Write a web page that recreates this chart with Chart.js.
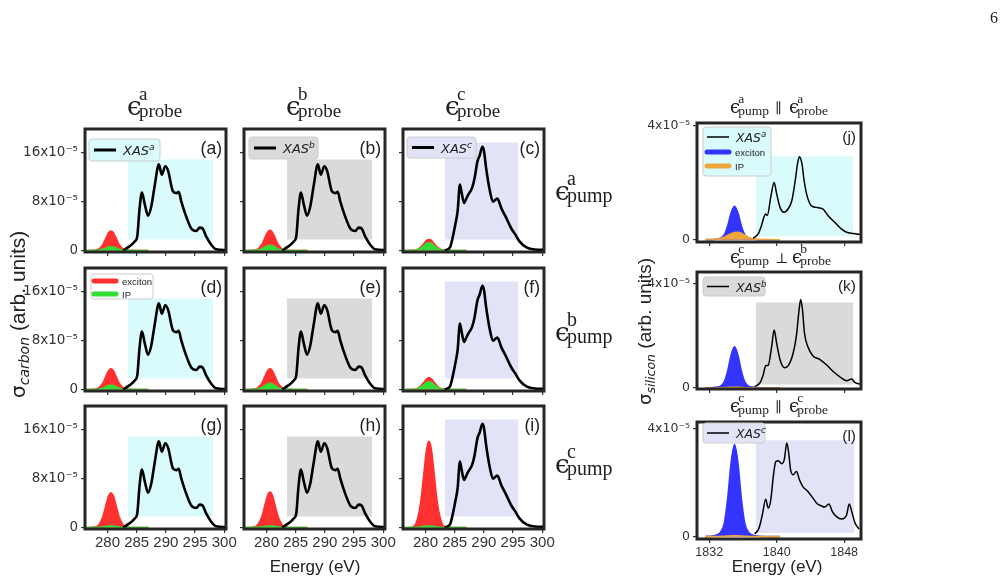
<!DOCTYPE html>
<html>
<head>
<meta charset="utf-8">
<script src="https://cdn.jsdelivr.net/npm/chart.js@4.4.0/dist/chart.umd.min.js"></script>
<style>
  body { margin: 0; background: #fff; }
  #fig { position: relative; width: 1004px; height: 584px; overflow: hidden; font-family: 'Liberation Sans', sans-serif; }
  #fig canvas { position: absolute; }
  #ov { position: absolute; left: 0; top: 0; z-index: 10; pointer-events: none; }
  .ser { font-family: 'Liberation Serif', 'DejaVu Serif', serif; fill: #222; }
  .eps { font-family: 'DejaVu Serif', serif; fill: #222; }
  .sans { font-family: 'Liberation Sans', sans-serif; fill: #222; }
  .dj { font-family: 'DejaVu Sans', sans-serif; fill: #222; }
</style>
</head>
<body>
<div id="fig"><svg id="ov" width="1004" height="584"></svg></div>
<script>
// ---- carbon K-edge data (x1e-5) ----
const cXasABX = [282.7, 283.5, 284.2, 284.7, 285.1, 285.5, 285.9, 286.4, 286.95, 287.5, 288.1, 288.8, 289.3, 289.9, 290.4, 291.2, 291.8, 292.2, 292.65, 293.5, 294.35, 295.2, 295.8, 296.3, 296.9, 297.8, 298.6, 300.3];
const cXasABY = [0.0, 0.5, 1.0, 1.5, 2.3, 6.9, 9.5, 7.5, 5.7, 7.2, 10.7, 14.1, 12.4, 13.8, 13.0, 9.7, 9.4, 9.6, 8.0, 5.5, 3.6, 3.2, 3.75, 3.6, 2.3, 0.9, 0.2, 0.05];
const cXasCX = [283.3, 284.2, 284.7, 285.1, 285.5, 285.9, 286.2, 286.6, 286.9, 287.3, 288.0, 288.4, 288.9, 289.3, 289.75, 290.0, 290.4, 291.0, 291.55, 292.3, 293.0, 293.85, 294.7, 295.4, 296.1, 297.3, 298.7, 300.3];
const cXasCY = [0.0, 0.5, 2.3, 4.2, 6.4, 10.8, 9.4, 7.8, 8.3, 9.1, 10.3, 11.8, 14.6, 15.6, 17.0, 16.4, 13.4, 9.9, 8.0, 8.5, 6.9, 5.3, 3.6, 2.6, 1.5, 0.5, 0.15, 0.1];

// exciton / IP curves share one energy grid
const cExX = [276.4, 277.5, 278.5, 279.2, 279.7, 280.2, 280.6, 281.0, 281.5, 282.0, 282.7, 283.5, 285.0, 287.0];
const cExA = [0, 0.01, 0.22, 0.96, 1.95, 2.91, 3.2, 2.91, 1.95, 0.96, 0.22, 0.02, 0, 0];
const cExB = [0, 0.01, 0.23, 0.99, 2.01, 3.0, 3.3, 3.0, 2.01, 0.99, 0.23, 0.02, 0, 0];
const cExC = [0, 0.01, 0.13, 0.54, 1.1, 1.64, 1.8, 1.64, 1.1, 0.54, 0.13, 0.01, 0, 0];
const cExD = [0, 0.01, 0.24, 1.02, 2.07, 3.09, 3.4, 3.09, 2.07, 1.02, 0.24, 0.02, 0, 0];
const cExE = [0, 0.01, 0.24, 1.02, 2.07, 3.09, 3.4, 3.09, 2.07, 1.02, 0.24, 0.02, 0, 0];
const cExF = [0, 0.01, 0.13, 0.57, 1.16, 1.73, 1.9, 1.73, 1.16, 0.57, 0.13, 0.01, 0, 0];
const cExG = [0, 0.02, 0.4, 1.71, 3.48, 5.19, 5.7, 5.19, 3.48, 1.71, 0.4, 0.03, 0, 0];
const cExH = [0, 0.02, 0.41, 1.74, 3.54, 5.28, 5.8, 5.28, 3.54, 1.74, 0.41, 0.03, 0, 0];
const cExI = [0, 0.04, 0.99, 4.23, 8.6, 12.83, 14.1, 12.83, 8.6, 4.23, 0.99, 0.07, 0, 0];
const cIpA = [0, 0, 0.04, 0.18, 0.37, 0.55, 0.6, 0.55, 0.37, 0.18, 0.04, 0, 0, 0];
const cIpB = [0, 0, 0.06, 0.26, 0.52, 0.77, 0.85, 0.77, 0.52, 0.26, 0.06, 0, 0, 0];
const cIpC = [0, 0, 0.09, 0.38, 0.76, 1.14, 1.25, 1.14, 0.76, 0.38, 0.09, 0.01, 0, 0];
const cIpD = [0, 0, 0.05, 0.21, 0.43, 0.64, 0.7, 0.64, 0.43, 0.21, 0.05, 0, 0, 0];
const cIpE = [0, 0, 0.07, 0.3, 0.61, 0.91, 1.0, 0.91, 0.61, 0.3, 0.07, 0.01, 0, 0];
const cIpF = [0, 0, 0.09, 0.38, 0.76, 1.14, 1.25, 1.14, 0.76, 0.38, 0.09, 0.01, 0, 0];
const cIpG = [0, 0, 0.02, 0.08, 0.15, 0.23, 0.25, 0.23, 0.15, 0.08, 0.02, 0, 0, 0];

// shaded windows: [E start, E end, y bottom, y top]
const cBoxAB = [283.5, 298.1, 1.8, 14.9];
const cBoxC = [283.3, 295.9, 1.8, 17.7];

const cXTicks = [280, 285, 290, 295, 300];
const cYTicks = [0, 8, 16];
const cYLabels = ['0', '8x10⁻⁵', '16x10⁻⁵'];

// ---- silicon K-edge data (x1e-5) ----
const sXasAX = [1837.2, 1837.8, 1838.2, 1838.5, 1838.7, 1838.9, 1839.3, 1839.7, 1840.0, 1840.4, 1840.85, 1841.4, 1841.8, 1842.2, 1842.5, 1842.7, 1843.0, 1843.25, 1843.6, 1844.1, 1844.7, 1845.5, 1846.1, 1846.9, 1847.7, 1848.3, 1849.1, 1849.9];
const sXasAY = [0.05, 0.2, 0.5, 0.8, 0.9, 0.85, 1.5, 2.0, 1.6, 1.13, 0.96, 1.1, 1.37, 2.07, 2.7, 2.9, 2.65, 2.07, 1.54, 1.19, 1.13, 1.07, 0.84, 0.6, 0.37, 0.26, 0.22, 0.18];
const sXasBX = [1837.4, 1838.0, 1838.4, 1838.7, 1839.0, 1839.4, 1839.7, 1840.0, 1840.4, 1840.9, 1841.4, 1841.95, 1842.35, 1842.65, 1842.85, 1843.05, 1843.3, 1843.7, 1844.3, 1845.1, 1845.9, 1846.7, 1847.7, 1848.3, 1848.9, 1849.3, 1849.9];
const sXasBY = [0.06, 0.19, 0.5, 0.85, 0.87, 1.58, 2.22, 1.71, 1.08, 0.78, 0.87, 1.33, 2.03, 2.98, 3.39, 3.03, 2.1, 1.58, 1.23, 1.1, 0.89, 0.63, 0.38, 0.28, 0.34, 0.2, 0.15];
const sXasCX = [1837.4, 1837.9, 1838.3, 1838.7, 1839.0, 1839.3, 1839.6, 1839.9, 1840.2, 1840.6, 1840.9, 1841.2, 1841.45, 1841.65, 1841.95, 1842.35, 1842.7, 1843.1, 1843.7, 1844.3, 1844.8, 1845.3, 1845.7, 1846.2, 1846.6, 1847.1, 1847.7, 1848.3, 1848.6, 1848.9, 1849.3, 1849.8];
const sXasCY = [0.1, 0.31, 0.81, 1.39, 1.06, 1.36, 2.24, 2.79, 2.82, 2.71, 2.86, 3.48, 3.04, 2.48, 2.3, 2.42, 2.11, 1.86, 1.68, 1.43, 1.22, 1.14, 1.1, 1.21, 0.93, 0.74, 0.65, 0.81, 1.21, 0.93, 0.5, 0.28];

const sExX = [1831.5, 1832.5, 1833.3, 1833.8, 1834.2, 1834.6, 1835.0, 1835.4, 1835.8, 1836.2, 1836.7, 1837.5, 1838.5, 1840.4];
const sExJ = [0, 0.01, 0.05, 0.18, 0.49, 0.94, 1.17, 0.94, 0.49, 0.18, 0.05, 0.01, 0, 0];
const sExK = [0, 0.02, 0.06, 0.24, 0.66, 1.26, 1.58, 1.26, 0.66, 0.24, 0.06, 0.02, 0, 0];
const sExL = [0, 0.03, 0.14, 0.51, 1.44, 2.74, 3.42, 2.74, 1.44, 0.51, 0.14, 0.03, 0, 0];
const sIpJ = [0, 0.01, 0.04, 0.09, 0.15, 0.21, 0.25, 0.26, 0.23, 0.16, 0.08, 0.02, 0.005, 0];
const sIpK = [0, 0, 0.005, 0.01, 0.02, 0.03, 0.03, 0.03, 0.02, 0.01, 0.005, 0, 0, 0];

const sBoxJ = [1837.5, 1849.1, 0.12, 2.92];
const sBoxK = [1837.5, 1849.1, 0.13, 3.28];
const sBoxL = [1837.5, 1849.2, 0.13, 3.58];

const sXTicks = [1832, 1840, 1848];
const sYTicks = [0, 4];
const sYLabels = ['0', '4x10⁻⁵'];

// colours
const CYAN = '#dafbfb', GRAY = '#dadada', LAV = '#e3e3f7';
const RED = '#ff3030', GREEN = '#33dd33', BLUE = '#3434ff', ORANGE = '#eea53a';

const pts = (xs, ys) => xs.map((x, i) => ({ x: x, y: ys[i] }));

const fig = document.getElementById('fig');

const framePlugin = {
  id: 'frame',
  afterDraw(chart) {
    const a = chart.chartArea, ctx = chart.ctx;
    ctx.save();
    ctx.strokeStyle = '#262626';
    ctx.lineWidth = 3;
    ctx.strokeRect(a.left, a.top, a.right - a.left, a.bottom - a.top);
    ctx.restore();
  }
};

function makePanel(p) {
  const ML = 70, MR = 18, MT = 14, MB = 30;
  const w = p.R - p.L + ML + MR, h = p.B - p.T + MT + MB;
  const cv = document.createElement('canvas');
  cv.width = w; cv.height = h;
  cv.style.width = w + 'px'; cv.style.height = h + 'px';
  cv.style.left = (p.L - ML) + 'px';
  cv.style.top = (p.T - MT) + 'px';
  fig.insertBefore(cv, document.getElementById('ov'));

  const ds = [
    { data: pts(p.xasX, p.xasY), borderColor: '#000', borderWidth: p.lw, fill: false, order: 0, cubicInterpolationMode: 'monotone' },
    { data: pts(p.exX, p.ip), borderColor: p.ipColor, backgroundColor: p.ipColor, borderWidth: 1.6, fill: 'origin', order: 1, cubicInterpolationMode: 'monotone' },
    { data: pts(p.exX, p.ex), borderColor: p.exColor, backgroundColor: p.exColor, borderWidth: 1.6, fill: 'origin', order: 2, cubicInterpolationMode: 'monotone' },
    { data: [{ x: p.box[0], y: p.box[3] }, { x: p.box[1], y: p.box[3] }], borderColor: 'rgba(0,0,0,0)', borderWidth: 0, backgroundColor: p.boxColor, fill: { value: p.box[2] }, order: 3 }
  ];

  new Chart(cv, {
    type: 'line',
    data: { datasets: ds },
    options: {
      responsive: false,
      animation: false,
      events: [],
      layout: { padding: { top: MT, right: MR, left: 0, bottom: 0 } },
      plugins: { legend: { display: false }, tooltip: { enabled: false } },
      elements: { point: { radius: 0 } },
      scales: {
        x: {
          type: 'linear', min: p.xMin, max: p.xMax,
          afterFit: s => { s.height = MB; },
          afterBuildTicks: s => { s.ticks = p.xTicks.map(v => ({ value: v })); },
          ticks: { display: p.showX, autoSkip: false, maxRotation: 0, padding: p.xPad, color: '#333',
                   font: { family: 'Liberation Sans', size: p.xFont }, callback: v => String(v) },
          grid: { drawOnChartArea: false, drawTicks: true, tickLength: 4, color: '#333', lineWidth: 1.2 },
          border: { display: false }
        },
        y: {
          type: 'linear', min: p.yMin, max: p.yMax,
          afterFit: s => { s.width = ML; },
          afterBuildTicks: s => { s.ticks = p.yTicks.map(v => ({ value: v })); },
          ticks: { display: p.showY, autoSkip: false, padding: 3, color: '#333',
                   font: { family: 'DejaVu Sans', size: p.yFont },
                   callback: v => p.yLabels[p.yTicks.indexOf(v)] },
          grid: { drawOnChartArea: false, drawTicks: true, tickLength: 4, color: '#333', lineWidth: 1.2 },
          border: { display: false }
        }
      }
    },
    plugins: [framePlugin]
  });
}

// carbon grid
const colL = [85, 244, 403], rowT = [129, 268, 406];
const cW = 141, cH = 123;
const carbon = [
  { ex: cExA, ip: cIpA, col: 0, row: 0 }, { ex: cExB, ip: cIpB, col: 1, row: 0 }, { ex: cExC, ip: cIpC, col: 2, row: 0 },
  { ex: cExD, ip: cIpD, col: 0, row: 1 }, { ex: cExE, ip: cIpE, col: 1, row: 1 }, { ex: cExF, ip: cIpF, col: 2, row: 1 },
  { ex: cExG, ip: cIpG, col: 0, row: 2 }, { ex: cExH, ip: cIpG, col: 1, row: 2 }, { ex: cExI, ip: cIpG, col: 2, row: 2 }
];
carbon.forEach(c => {
  const isC = c.col === 2;
  makePanel({
    L: colL[c.col], T: rowT[c.row], R: colL[c.col] + cW, B: rowT[c.row] + cH,
    xasX: isC ? cXasCX : cXasABX, xasY: isC ? cXasCY : cXasABY, lw: 2.6,
    exX: cExX, ex: c.ex, ip: c.ip, exColor: RED, ipColor: GREEN,
    box: isC ? cBoxC : cBoxAB, boxColor: [CYAN, GRAY, LAV][c.col],
    xMin: 276.15, xMax: 300.3, yMin: -0.25, yMax: 19.9,
    xTicks: cXTicks, yTicks: cYTicks, yLabels: cYLabels,
    showX: c.row === 2, showY: c.col === 0, xFont: 15, yFont: 13.5, xPad: 1
  });
});

// silicon column
const silicon = [
  { T: 123, B: 242, x: sXasAX, y: sXasAY, ex: sExJ, ip: sIpJ, box: sBoxJ, color: CYAN, yMin: -0.08, yMax: 4.08, showX: false },
  { T: 272, B: 389, x: sXasBX, y: sXasBY, ex: sExK, ip: sIpK, box: sBoxK, color: GRAY, yMin: -0.04, yMax: 4.45, showX: false },
  { T: 422, B: 539, x: sXasCX, y: sXasCY, ex: sExL, ip: sIpK, box: sBoxL, color: LAV, yMin: -0.09, yMax: 4.26, showX: true }
];
silicon.forEach(s => {
  makePanel({
    L: 697, T: s.T, R: 861, B: s.B,
    xasX: s.x, xasY: s.y, lw: 1.5,
    exX: sExX, ex: s.ex, ip: s.ip, exColor: BLUE, ipColor: ORANGE,
    box: s.box, boxColor: s.color,
    xMin: 1830.55, xMax: 1850, yMin: s.yMin, yMax: s.yMax,
    xTicks: sXTicks, yTicks: sYTicks, yLabels: sYLabels,
    showX: s.showX, showY: true, xFont: 12.5, yFont: 12.5, xPad: 2
  });
});

// ---- text overlay ----
let svg = '';
function eps(x, y, big, small, sup, sub) {
  const w = big * 0.46;
  svg += `<text class="eps" x="${x}" y="${y}" font-size="${big}">ϵ</text>`;
  svg += `<text class="ser" x="${x + w}" y="${y - big * 0.58}" font-size="${small}">${sup}</text>`;
  svg += `<text class="ser" x="${x + w}" y="${y + 2}" font-size="${small}">${sub}</text>`;
}
// column headers and row labels
['a', 'b', 'c'].forEach((k, i) => eps(127 + i * 159, 115, 26, 19, k, 'probe'));
[200, 341, 473].forEach((y, i) => eps(555, y, 26, 20, ['a', 'b', 'c'][i], 'pump'));
// silicon titles
const siT = [[113, 'a', '∥', 'a'], [263, 'c', '⊥', 'b'], [412, 'c', '∥', 'c']];
siT.forEach(t => {
  eps(730, t[0], 18, 13.5, t[1], 'pump');
  svg += `<text class="ser" x="775" y="${t[0]}" font-size="14">${t[2]}</text>`;
  eps(t[2] === '⊥' ? 792 : 789, t[0], 18, 13.5, t[3], 'probe');
});

// panel letters
const letters = 'abcdefghi';
carbon.forEach((c, i) => {
  svg += `<text class="sans" x="${colL[c.col] + cW - 4}" y="${rowT[c.row] + 25}" font-size="17.5" text-anchor="end">(${letters[i]})</text>`;
});
silicon.forEach((s, i) => {
  svg += `<text class="sans" x="856" y="${s.T + 19}" font-size="15.5" text-anchor="end">(${'jkl'[i]})</text>`;
});

// axis labels
svg += `<text class="sans" x="315" y="572" font-size="17" text-anchor="middle">Energy (eV)</text>`;
svg += `<text class="sans" x="777" y="572" font-size="17" text-anchor="middle">Energy (eV)</text>`;
svg += `<text class="dj" transform="translate(25,398) rotate(-90)" font-size="20">σ<tspan font-size="14" font-style="italic" dy="4">carbon</tspan><tspan class="sans" dy="-4" font-size="21"> (arb. units)</tspan></text>`;
svg += `<text class="dj" transform="translate(651,405) rotate(-90)" font-size="18">σ<tspan font-size="12.6" font-style="italic" dy="4">silicon</tspan><tspan class="sans" dy="-4" font-size="19"> (arb. units)</tspan></text>`;
svg += `<text class="ser" x="990" y="23" font-size="16">6</text>`;

// legends
function legBox(x, y, w, h, bg) {
  svg += `<rect x="${x}" y="${y}" width="${w}" height="${h}" rx="3" fill="${bg}" stroke="#cccccc" stroke-width="1"/>`;
}
function legXas(x, y, k, lw, fs) {
  svg += `<line x1="${x}" y1="${y}" x2="${x + 22}" y2="${y}" stroke="#000" stroke-width="${lw}"/>`;
  svg += `<text class="dj" x="${x + 29}" y="${y + 5}" font-size="${fs}" font-style="italic" fill="#333">XAS<tspan font-size="${fs * 0.7}" dy="-5">${k}</tspan></text>`;
}
function legFill(x, y, color, label) {
  svg += `<line x1="${x}" y1="${y}" x2="${x + 22}" y2="${y}" stroke="${color}" stroke-width="5" stroke-linecap="round"/>`;
  svg += `<text class="sans" x="${x + 28}" y="${y + 3.5}" font-size="9.5" fill="#333">${label}</text>`;
}
legBox(89, 139, 71, 22, CYAN); legXas(94, 150, 'a', 3, 13);
legBox(249, 137, 69, 22, GRAY); legXas(254, 148, 'b', 3, 13);
legBox(407, 137, 69, 21, LAV); legXas(412, 147.5, 'c', 3, 13);
legBox(91, 274, 62, 25, '#ffffff'); legFill(94, 281, RED, 'exciton'); legFill(94, 294, GREEN, 'IP');
legBox(703, 127, 68, 49, CYAN); legXas(707, 137, 'a', 1.5, 12.5); legFill(707, 152, BLUE, 'exciton'); legFill(707, 166, ORANGE, 'IP');
legBox(703, 277, 62, 19, GRAY); legXas(707, 286.5, 'b', 1.5, 12.5);
legBox(703, 423, 62, 20, LAV); legXas(707, 433, 'c', 1.5, 12.5);

document.getElementById('ov').innerHTML = svg;
</script>
</body>
</html>
